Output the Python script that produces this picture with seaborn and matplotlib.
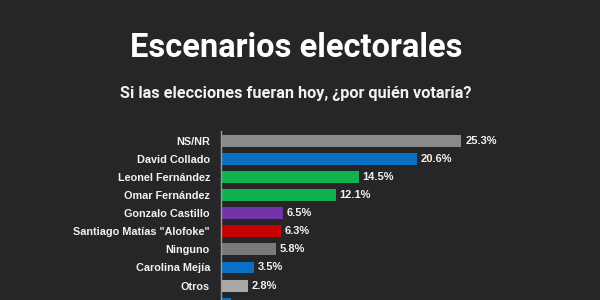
import matplotlib
matplotlib.use("Agg")
import matplotlib.pyplot as plt
import seaborn as sns

# ========================== data ==========================
candidatos = ["NS/NR", "David Collado", "Leonel Fernández", "Omar Fernández",
              "Gonzalo Castillo", "Santiago Matías \"Alofoke\"", "Ninguno",
              "Carolina Mejía", "Otros", "(cortado)"]
porcentajes = [25.3, 20.6, 14.5, 12.1, 6.5, 6.3, 5.8, 3.5, 2.8, 1.0]
colores = ["#8a8a8a", "#0b6fc4", "#12b34f", "#13b04e", "#7233a8",
           "#c80000", "#7a7a7a", "#0b6fc4", "#a9a9a9", "#0b6fc4"]

BG = "#262628"
TXT = "#f2f2f2"
LABEL_FONT = ["Liberation Sans", "DejaVu Sans"]

sns.set_style("dark")
plt.rcParams["font.family"] = ["Roboto", "DejaVu Sans"]

fig = plt.figure(figsize=(6, 3), dpi=100)
fig.patch.set_facecolor(BG)

fig.text(0.493, 0.84, "Escenarios electorales", ha="center", va="center",
         color="white", fontsize=23.5, fontweight="bold")
fig.text(0.493, 0.69, "Si las elecciones fueran hoy, ¿por quién votaría?",
         ha="center", va="center", color=TXT, fontsize=11.7, fontweight="bold")

ax = fig.add_axes([221 / 600, 0, 285 / 600, 169 / 300])
ax.set_facecolor(BG)

sns.barplot(x=porcentajes, y=candidatos, hue=candidatos, palette=colores,
            legend=False, width=0.66, orient="h", ax=ax, saturation=1,
            edgecolor="none", linewidth=0)

for i, v in enumerate(porcentajes[:-1]):
    ax.text(v + 0.4, i, f"{v}%", va="center", ha="left", family=LABEL_FONT,
            color=TXT, fontsize=8, fontweight="bold")

ax.set_xlim(0, 30)
ax.set_ylim(8.8, -0.55)
ax.set_xlabel("")
ax.set_ylabel("")
ax.set_xticks([])
ax.tick_params(axis="y", length=0, pad=8, colors=TXT)
for lbl in ax.get_yticklabels():
    lbl.set_fontweight("bold")
    lbl.set_fontsize(7.8)
    lbl.set_family(LABEL_FONT)
ax.grid(False)
for s in ["top", "right", "bottom"]:
    ax.spines[s].set_visible(False)
ax.spines["left"].set_color("#9a9a9a")
ax.spines["left"].set_linewidth(1)

plt.savefig("out.png", dpi=100, facecolor=BG)
plt.close()
